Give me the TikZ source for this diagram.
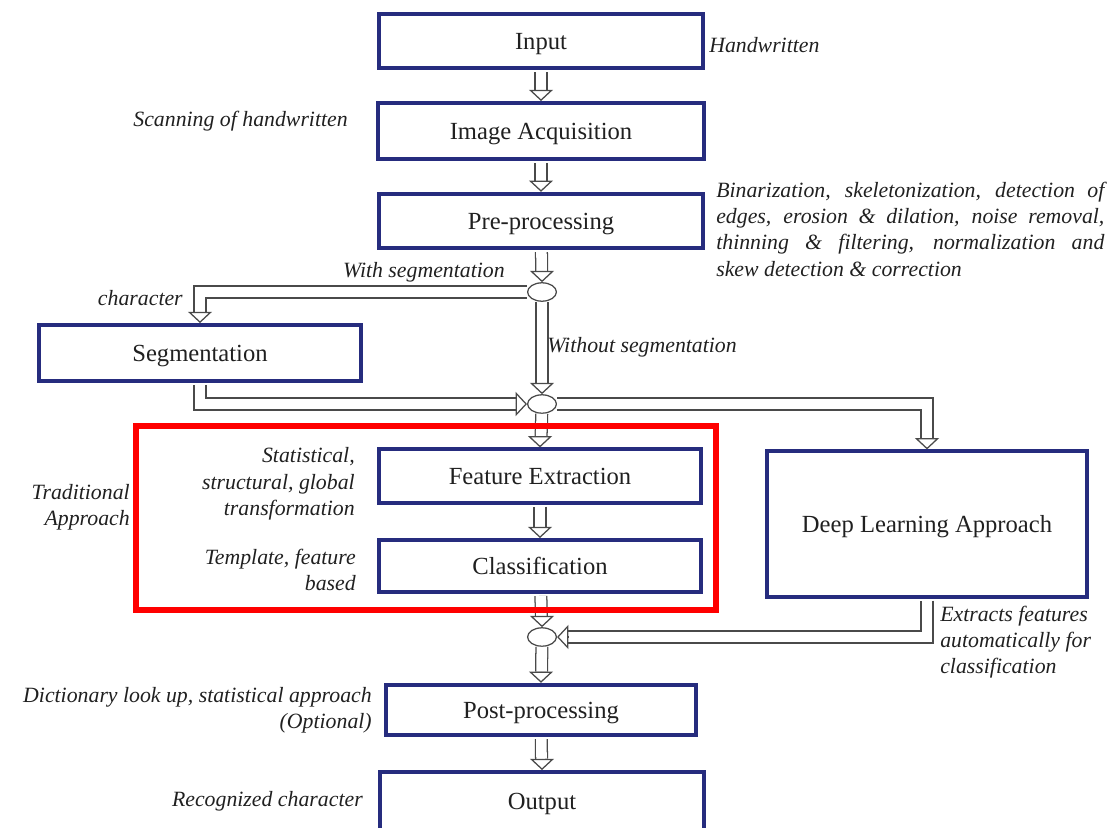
\documentclass[tikz,border=0pt]{standalone}
\usepackage{fontspec}
\setmainfont{Liberation Serif}
\usetikzlibrary{arrows.meta,shapes.geometric}
\definecolor{frm}{HTML}{262C7E}
\definecolor{arr}{HTML}{4A4A4A}
\definecolor{txt}{HTML}{202020}

\begin{document}
\begin{tikzpicture}[x=0.025cm, y=-0.025cm,
  box/.style={draw=frm, line width=2.8pt, minimum width=8.1cm, minimum height=1.36cm, inner sep=2pt, text depth=0pt, text=txt, font=\fontsize{17.5}{21}\selectfont},
  junc/.style={ellipse, draw=arr, line width=0.9pt, minimum width=0.72cm, minimum height=0.46cm, inner sep=0pt},
  fatline/.style={draw=arr, line width=0.9pt, double=white, double distance=7.5pt, shorten >=8pt},
  fathead/.style={draw=arr, line width=0.9pt, -{Triangle[open, length=8pt, width=17pt]}},
  ann/.style={inner sep=0pt, text=txt, font=\itshape\fontsize{15.5}{18.7}\selectfont}]
\useasboundingbox (0,0) rectangle (1109,827);
% main chain
\node[box] (inp) at (541,41) {Input};
\node[box, minimum width=8.17cm, minimum height=1.4cm] (acq) at (541,131) {Image Acquisition};
\node[box] (pre) at (541,221) {Pre-processing};
\node[junc] (e1) at (542,292) {};
\node[box, minimum width=8.03cm, minimum height=1.4cm] (seg) at (200,353) {Segmentation};
\node[junc] (e2) at (542,404) {};
\node[box, minimum width=8.05cm, minimum height=1.33cm] (fe) at (540,476) {Feature Extraction};
\node[box, minimum width=8.03cm, minimum height=1.3cm] (cl) at (540,566) {Classification};
\node[box, minimum width=7.98cm, minimum height=3.63cm] (dl) at (927,524) {Deep Learning Approach};
\node[junc] (e3) at (542,637) {};
\node[box, minimum width=7.75cm, minimum height=1.26cm] (post) at (541,710) {Post-processing};
\node[box, minimum width=8.08cm, minimum height=1.45cm] (out) at (542,801) {Output};
% fat arrows
\draw[fatline, shorten <=1.4pt] (inp) -- (acq);
\draw[fathead] (acq.north) ++(0,8pt) -- (acq.north);
\draw[fatline, shorten <=1.4pt] (acq) -- (pre);
\draw[fathead] (pre.north) ++(0,8pt) -- (pre.north);
\draw[fatline, shorten <=1.4pt] (pre) -- (e1);
\draw[fathead] (e1.north) ++(0,8pt) -- (e1.north);
\draw[fatline] (e1.west) -| (seg.north);
\draw[fathead] (seg.north) ++(0,8pt) -- (seg.north);
\draw[fatline] (e1) -- (e2);
\draw[fathead] (e2.north) ++(0,8pt) -- (e2.north);
\draw[fatline, shorten <=1.4pt] (seg.south) |- (e2.west);
\draw[fathead] (e2.west) ++(-8pt,0) -- (e2.west);
\draw[fatline] (e2.east) -| (dl.north);
\draw[fathead] (dl.north) ++(0,8pt) -- (dl.north);
\draw[fatline] (e2) -- (fe);
\draw[fathead] (fe.north) ++(0,8pt) -- (fe.north);
\draw[fatline, shorten <=1.4pt] (fe) -- (cl);
\draw[fathead] (cl.north) ++(0,8pt) -- (cl.north);
\draw[fatline, shorten <=1.4pt] (cl) -- (e3);
\draw[fathead] (e3.north) ++(0,8pt) -- (e3.north);
\draw[fatline, shorten <=1.4pt] (dl.south) |- (e3.east);
\draw[fathead] (e3.east) ++(8pt,0) -- (e3.east);
\draw[fatline] (e3) -- (post);
\draw[fathead] (post.north) ++(0,8pt) -- (post.north);
\draw[fatline, shorten <=1.4pt] (post) -- (out);
\draw[fathead] (out.north) ++(0,8pt) -- (out.north);
% traditional approach frame
\draw[red, line width=4.25pt] (136,426) rectangle (716,610);
% notes
\node[ann, anchor=west] (hw) at (709,45) {Handwritten};
\node[ann, anchor=east] (scan) at (348,121) {Scanning of handwritten};
\node[ann, anchor=west, align=left] (prenote) at (716,229) {\makebox[9.7cm][s]{Binarization, skeletonization, detection of}\\\makebox[9.7cm][s]{edges, erosion \& dilation, noise removal,}\\\makebox[9.7cm][s]{thinning \& filtering, normalization and}\\skew detection \& correction};
\node[ann, anchor=east] (withseg) at (505,272) {With segmentation};
\node[ann, anchor=east] (chr) at (183,298) {character};
\node[ann, anchor=west] (woseg) at (547,347) {Without segmentation};
\node[ann, anchor=east, align=right] (trad) at (130,507) {Traditional\\Approach};
\node[ann, anchor=east, align=right] (fenote) at (355,484) {Statistical,\\structural, global\\transformation};
\node[ann, anchor=east, align=right] (clnote) at (356,570) {Template, feature\\based};
\node[ann, anchor=west, align=left] (dlnote) at (940,642) {Extracts features\\automatically for\\classification};
\node[ann, anchor=east, align=right] (postnote) at (372,710) {Dictionary look up, statistical approach\\(Optional)};
\node[ann, anchor=east] (outnote) at (363,801) {Recognized character};
\end{tikzpicture}
\end{document}
